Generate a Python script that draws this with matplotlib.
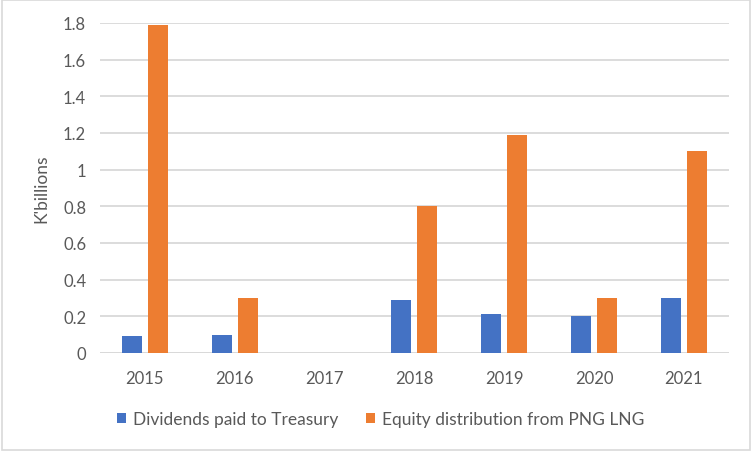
import matplotlib.pyplot as plt
import numpy as np
from matplotlib.patches import Rectangle

plt.rcParams['font.family'] = ['Lato', 'DejaVu Sans']

years = ['2015', '2016', '2017', '2018', '2019', '2020', '2021']
dividends = [0.09, 0.10, 0.0, 0.29, 0.21, 0.20, 0.30]
equity = [1.79, 0.30, 0.0, 0.80, 1.19, 0.30, 1.10]

blue = '#4472C4'
orange = '#ED7D31'
text_col = '#595959'
grid_col = '#D9D9D9'

fig = plt.figure(figsize=(7.52, 4.52), dpi=100)
ax = fig.add_axes([0.133, 0.217, 0.836, 0.730])

x = np.arange(len(years))
w = 0.222
off = 0.145
ax.bar(x - off, dividends, w, color=blue, label='Dividends paid to Treasury', zorder=3)
ax.bar(x + off, equity, w, color=orange, label='Equity distribution from PNG LNG', zorder=3)

ax.set_xlim(-0.5, len(years) - 0.5)
ax.set_ylim(0, 1.8)
yt = np.arange(0, 1.81, 0.2)
ax.set_yticks(yt)
ax.set_yticklabels(['0', '0.2', '0.4', '0.6', '0.8', '1', '1.2', '1.4', '1.6', '1.8'])
ax.set_xticks(x)
ax.set_xticklabels(years)
ax.tick_params(axis='both', length=0, labelsize=12, colors=text_col)
ax.tick_params(axis='x', pad=12)
ax.tick_params(axis='y', pad=10)
ax.grid(axis='y', color=grid_col, linewidth=1.3, zorder=0)
for s in ax.spines.values():
    s.set_visible(False)
ax.axhline(0, color=grid_col, linewidth=1.3, zorder=2)

ax.set_ylabel("K'billions", fontsize=12.5, color=text_col, labelpad=10)

leg = fig.legend(loc='center', bbox_to_anchor=(0.506, 0.07), ncol=2, frameon=False,
                 fontsize=12.5, handlelength=0.5, handleheight=0.5, columnspacing=1.6,
                 handletextpad=0.4)
for t in leg.get_texts():
    t.set_color(text_col)

fig.patches.append(Rectangle((0.002, 0.003), 0.996, 0.994, transform=fig.transFigure,
                             fill=False, edgecolor=grid_col, linewidth=1.2))

fig.savefig('out.png', dpi=100)
